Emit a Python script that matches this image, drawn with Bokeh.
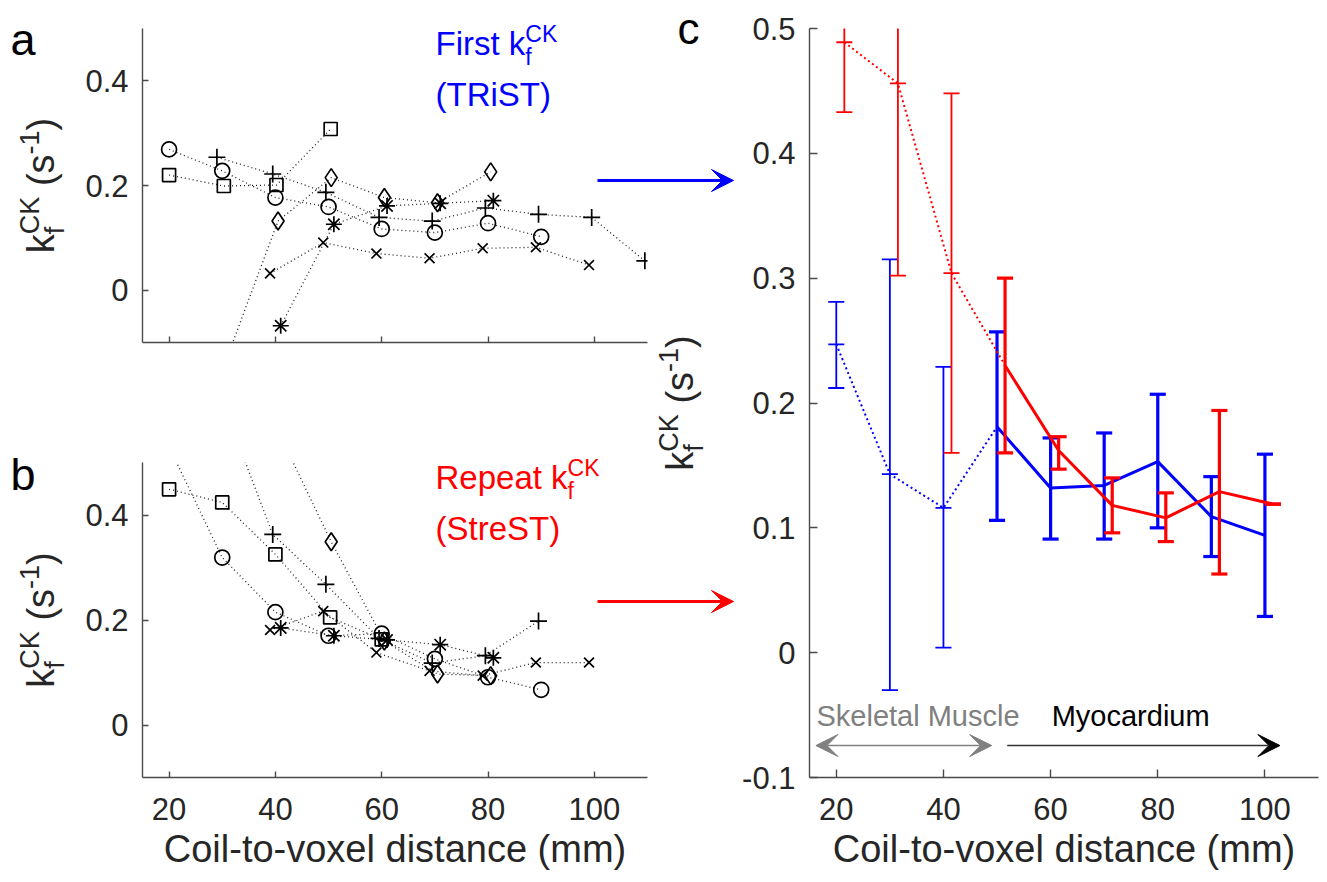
import math
from bokeh.plotting import figure
from bokeh.layouts import row, column
from bokeh.models import Range1d, Label, Arrow, VeeHead, FixedTicker
from bokeh.embed import file_html
from bokeh.resources import INLINE

# ---------------- data ----------------
# panel c (mean +/- error), blue = first (TRiST), red = repeat (StreST)
blue_x = [20, 30, 40, 50, 60, 70, 80, 90, 100]
blue_mean = [0.247, 0.143, 0.116, 0.181, 0.132, 0.134, 0.153, 0.109, 0.094]
blue_lo = [0.212, -0.030, 0.004, 0.106, 0.091, 0.091, 0.100, 0.077, 0.029]
blue_hi = [0.281, 0.315, 0.229, 0.257, 0.172, 0.176, 0.207, 0.141, 0.159]

red_x = [21.5, 31.5, 41.5, 51.5, 61.5, 71.5, 81.5, 91.5, 101.5]
red_mean = [0.489, 0.456, 0.304, 0.230, 0.162, 0.118, 0.108, 0.129, 0.119]
red_lo = [0.433, 0.302, 0.160, 0.160, 0.147, 0.096, 0.089, 0.063, 0.119]
red_hi = [0.545, 0.610, 0.448, 0.300, 0.173, 0.140, 0.128, 0.194, 0.119]
n_muscle = 3  # first three points: skeletal muscle

# panel a (first) individual subjects
a_circle_x = [20, 30, 40, 50, 60, 70, 80, 90]
a_circle_y = [0.269, 0.228, 0.177, 0.159, 0.117, 0.110, 0.128, 0.102]
a_square_x = [20, 30.3, 40.2, 50.4]
a_square_y = [0.220, 0.199, 0.201, 0.308]
a_diamond_x = [30.5, 40.5, 50.5, 60.5, 70.5, 80.5]
a_diamond_y = [-0.14, 0.132, 0.215, 0.177, 0.167, 0.226]
a_plus_x = [29, 39.5, 49.5, 59.5, 69.5, 79.5, 89.5, 99.5, 109.5]
a_plus_y = [0.254, 0.222, 0.187, 0.139, 0.132, 0.157, 0.145, 0.139, 0.056]
a_x_x = [39, 49, 59, 69, 79, 89, 99]
a_x_y = [0.032, 0.091, 0.070, 0.061, 0.080, 0.082, 0.048]
a_star_x = [41, 51, 61, 71, 81]
a_star_y = [-0.068, 0.126, 0.161, 0.166, 0.171]

# panel b (repeat) individual subjects
b_circle_x = [20, 30, 40, 50, 60, 70, 80, 90]
b_circle_y = [0.53, 0.319, 0.215, 0.170, 0.174, 0.126, 0.091, 0.067]
b_square_x = [20, 30, 40, 50.3, 60]
b_square_y = [0.449, 0.424, 0.325, 0.205, 0.163]
b_diamond_x = [40.5, 50.5, 60.5, 70.5, 80.5]
b_diamond_y = [0.56, 0.349, 0.160, 0.097, 0.094]
b_plus_x = [29.5, 39.5, 49.5, 59.5, 69.5, 79.5, 89.5]
b_plus_y = [0.63, 0.363, 0.268, 0.165, 0.118, 0.132, 0.198]
b_x_x = [39, 49, 59, 69, 79, 89, 99]
b_x_y = [0.181, 0.217, 0.138, 0.103, 0.094, 0.119, 0.119]
b_star_x = [41, 51, 61, 71, 81]
b_star_y = [0.185, 0.170, 0.162, 0.153, 0.128]

xticks = [20, 40, 60, 80, 100]
xtick_labels = ["20", "40", "60", "80", "100"]
yticks_ab = [0, 0.2, 0.4]
ytick_labels_ab = ["0", "0.2", "0.4"]
yticks_c = [-0.1, 0, 0.1, 0.2, 0.3, 0.4, 0.5]
ytick_labels_c = ["-0.1", "0", "0.1", "0.2", "0.3", "0.4", "0.5"]
x_label = "Coil-to-voxel distance (mm)"

# ---------------- style ----------------
FONT = "Liberation Sans"
TXT = "#262626"
AXC = "#4a4a4a"
BLUE = "#0000ff"
RED = "#ff0000"
GRAY = "#808080"
PAGE_W, PAGE_H = 1327, 882
BASE_FIX = 0.30  # label baseline correction (fraction of font size)

# frames in page coordinates (left, top, right, bottom)
FA = (142, 28, 647, 342)
FB = (142, 462, 647, 777)
FC = (809, 28, 1318, 777)
SPLIT_X, SPLIT_Y = 655, 440

W = {'k': .5, 'f': .278, 'C': .722, 'K': .667, ' ': .278, '(': .333, 's': .5,
     '-': .333, '1': .556, ')': .333, 'F': .611, 'i': .222, 'r': .333, 't': .278,
     'R': .722, 'e': .556, 'p': .556, 'a': .556, 'T': .611, 'S': .667}


def tw(s, size):
    return sum(W.get(c, 0.556) for c in s) * size


def make_fig(canvas, frame, yt, ytl, show_xlabels, ticklen):
    cl, ct, cr, cb = canvas
    L, T, R, B = frame
    p = figure(width=cr - cl, height=cb - ct, x_range=Range1d(15, 110),
               y_range=Range1d(-0.1, 0.5), title=None,
               min_border_left=L - cl, min_border_right=cr - R, min_border_top=T - ct,
               min_border_bottom=cb - B, output_backend="svg", toolbar_location=None)
    p.outline_line_color = None
    p.grid.visible = False
    p.background_fill_color = "white"
    p.border_fill_color = "white"
    for ax in (p.xaxis[0], p.yaxis[0]):
        ax.axis_line_color = AXC
        ax.axis_line_width = 1.4
        ax.major_tick_line_color = AXC
        ax.major_tick_line_width = 1.4
        ax.major_tick_in = ticklen
        ax.major_tick_out = 0
        ax.minor_tick_line_color = None
        ax.major_label_text_font = FONT
        ax.major_label_text_font_size = "31px"
        ax.major_label_text_color = TXT
        ax.axis_label_text_font = FONT
        ax.axis_label_text_font_size = "38px"
        ax.axis_label_text_font_style = "normal"
        ax.axis_label_text_color = TXT
    p.yaxis.ticker = yt
    p.yaxis.major_label_overrides = {t: s for t, s in zip(yt, ytl)}
    p.yaxis.major_label_standoff = 14
    if show_xlabels:
        p.xaxis.ticker = xticks
        p.xaxis.major_label_overrides = {t: s for t, s in zip(xticks, xtick_labels)}
        p.xaxis.major_label_standoff = 20
        p.xaxis.axis_label = x_label
        p.xaxis.axis_label_standoff = 5
    else:
        # ticks without labels: use minor ticks only
        p.xaxis.ticker = FixedTicker(ticks=[], minor_ticks=xticks)
        p.xaxis.minor_tick_line_color = AXC
        p.xaxis.minor_tick_line_width = 1.4
        p.xaxis.minor_tick_in = ticklen
        p.xaxis.minor_tick_out = 0
    return p


def subjects(p, series):
    for xs, ys, mk, sz in series:
        p.line(xs, ys, line_color="#222222", line_width=1.3, line_dash="1 3")
    for xs, ys, mk, sz in series:
        p.scatter(xs, ys, marker=mk, size=sz, fill_color=None, line_color="black",
                  line_width=1.7)


# ---------------- panel a ----------------
pa = make_fig((0, 0, SPLIT_X, SPLIT_Y), FA, yticks_ab, ytick_labels_ab, False, 6)
subjects(pa, [(a_circle_x, a_circle_y, "circle", 15), (a_square_x, a_square_y, "square", 13),
              (a_diamond_x, a_diamond_y, "diamond", 18), (a_plus_x, a_plus_y, "cross", 17),
              (a_x_x, a_x_y, "x", 14), (a_star_x, a_star_y, "asterisk", 16)])

# ---------------- panel b ----------------
pb = make_fig((0, SPLIT_Y, SPLIT_X, PAGE_H), FB, yticks_ab, ytick_labels_ab, True, 6)
subjects(pb, [(b_circle_x, b_circle_y, "circle", 15), (b_square_x, b_square_y, "square", 13),
              (b_diamond_x, b_diamond_y, "diamond", 18), (b_plus_x, b_plus_y, "cross", 17),
              (b_x_x, b_x_y, "x", 14), (b_star_x, b_star_y, "asterisk", 16)])

# ---------------- panel c ----------------
pc = make_fig((SPLIT_X, 0, PAGE_W, PAGE_H), FC, yticks_c, ytick_labels_c, True, 8)
CAP = 1.5
m = n_muscle
for xs, mean, lo, hi, col in [(blue_x, blue_mean, blue_lo, blue_hi, BLUE),
                              (red_x, red_mean, red_lo, red_hi, RED)]:
    pc.line(xs[:m + 1], mean[:m + 1], line_color=col, line_width=2, line_dash="2 3")
    pc.line(xs[m:], mean[m:], line_color=col, line_width=3)
    for sl, lw in [(slice(0, m), 1.8), (slice(m, None), 3.2)]:
        x_ = xs[sl]
        pc.segment(x0=x_, y0=lo[sl], x1=x_, y1=hi[sl], line_color=col, line_width=lw)
        pc.segment(x0=[v - CAP for v in x_], y0=lo[sl], x1=[v + CAP for v in x_], y1=lo[sl],
                   line_color=col, line_width=lw)
        pc.segment(x0=[v - CAP for v in x_], y0=hi[sl], x1=[v + CAP for v in x_], y1=hi[sl],
                   line_color=col, line_width=lw)
    pc.scatter(xs[:m], mean[:m], marker="dash", size=16, line_color=col, line_width=1.8)

arrow_y = -0.0744
text_y = -0.0505
pc.add_layout(Arrow(start=VeeHead(size=22, fill_color=GRAY, line_color=GRAY),
                    end=VeeHead(size=22, fill_color=GRAY, line_color=GRAY),
                    x_start=16.2, y_start=arrow_y, x_end=49.0, y_end=arrow_y,
                    line_color=GRAY, line_width=1.5))
pc.add_layout(Arrow(end=VeeHead(size=22, fill_color="black", line_color="black"),
                    x_start=51.9, y_start=arrow_y, x_end=102.8, y_end=arrow_y,
                    line_color="#333333", line_width=1.5))
pc.add_layout(Label(x=16.3, y=text_y, text="Skeletal Muscle", text_font=FONT,
                    text_font_size="29px", text_color=GRAY, text_baseline="alphabetic"))
pc.add_layout(Label(x=60.2, y=text_y, text="Myocardium", text_font=FONT,
                    text_font_size="29px", text_color="black", text_baseline="alphabetic"))

# ---------------- transparent overlay for texts/arrows outside the frames ----------------
ov = figure(width=PAGE_W, height=PAGE_H, x_range=Range1d(0, PAGE_W), y_range=Range1d(PAGE_H, 0),
            min_border=0, x_axis_type=None, y_axis_type=None, title=None,
            output_backend="svg", toolbar_location=None)
ov.outline_line_color = None
ov.background_fill_color = None
ov.border_fill_color = None
ov.grid.visible = False
ov.styles = {"position": "absolute", "left": "0px", "top": "0px", "pointer-events": "none"}


def otext(x, y, text, size, color, angle=0.0):
    if angle == 0.0:
        y = y - BASE_FIX * size
    else:
        x = x - BASE_FIX * size
    ov.add_layout(Label(x=x, y=y, text=text, text_font=FONT, text_font_size=f"{size}px",
                        text_color=color, text_baseline="alphabetic", text_align="left",
                        angle=angle))


def rich(px, py, parts, color, angle=0.0):
    """parts: list of items; item = number (gap px) or list of (text, size, raise)."""
    adv = 0.0
    for item in parts:
        if isinstance(item, (int, float)):
            adv += item
            continue
        mx = 0.0
        for text, size, up in item:
            if angle == 0.0:
                otext(px + adv, py - up, text, size, color)
            else:
                otext(px - up, py - adv, text, size, color, angle)
            mx = max(mx, tw(text, size))
        adv += mx


def ylabel(frame, bx):
    L, T, R, B = frame
    F, Fs = 38, 27
    parts = [[("k", F, 0)], [("f", Fs, -11), ("CK", Fs, 14)], F * 0.278,
             [("(s", F, 0)], [("-1", Fs, 15)], [(")", F, 0)]]
    length = tw("k", F) + tw("CK", Fs) + F * 0.278 + tw("(s", F) + tw("-1", Fs) + tw(")", F)
    cy = (T + B) / 2
    rich(bx, cy + length / 2, parts, TXT, angle=math.pi / 2)


ylabel(FA, 52)
ylabel(FB, 52)
ylabel(FC, 691)
otext(10, 52, "a", 45, "black")
otext(10, 487, "b", 45, "black")
otext(677, 41, "c", 44, "black")
rich(435, 53, [[("First k", 33, 0)], [("f", 23, -10), ("CK", 23, 13)]], BLUE)
otext(435, 104, "(TRiST)", 33, BLUE)
rich(435, 487, [[("Repeat k", 33, 0)], [("f", 23, -10), ("CK", 23, 13)]], RED)
otext(435, 538, "(StreST)", 33, RED)
for yy, col in [(180, BLUE), (601, RED)]:
    ov.add_layout(Arrow(end=VeeHead(size=22, fill_color=col, line_color=col),
                        x_start=597, y_start=yy, x_end=733, y_end=yy,
                        line_color=col, line_width=3))

layout = row(column(pa, pb), pc)
open("out.html", "w").write(file_html([layout, ov], INLINE))
